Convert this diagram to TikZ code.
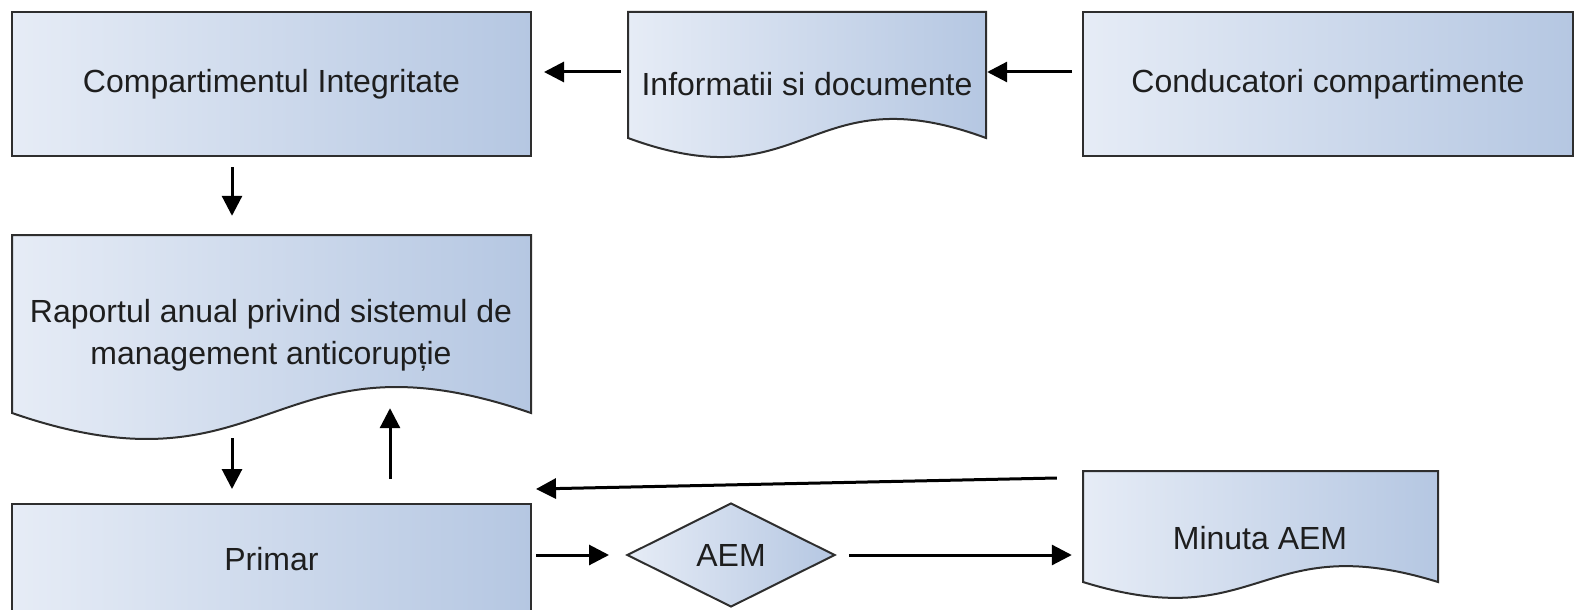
\documentclass[tikz,border=0pt]{standalone}
\usepackage{fontspec}
\setmainfont{Liberation Sans}
\usetikzlibrary{arrows.meta,calc,shapes.geometric}
\definecolor{fillL}{HTML}{E6ECF6}
\definecolor{fillR}{HTML}{B5C7E2}
\definecolor{edge}{HTML}{2E2E2E}
\definecolor{ink}{HTML}{1E1E1E}

% document symbol: straight top and sides, wavy bottom edge
% #1 name, #2 left, #3 top, #4 right, #5 bottom of the sides, #6 wave depth
\newcommand\docsymbol[6]{%
  \path[boxfill] (#2,#3) -- (#4,#3) -- (#4,#5)
    .. controls ({(#2+#4)/2},{#5-#6}) and ({(#2+#4)/2},{#5+#6}) .. (#2,#5) -- cycle;
  \pgfmathsetmacro\dw{#4-#2}\pgfmathsetmacro\dh{#5-#3}%
  \node[inner sep=0pt,minimum width=\dw pt,minimum height=\dh pt] (#1)
    at ({(#2+#4)/2},{(#3+#5)/2}) {};
}

\begin{document}
\begin{tikzpicture}[x=1pt,y=-1pt,
  boxfill/.style={left color=fillL,right color=fillR,draw=edge,line width=2pt},
  label/.style={font=\fontsize{32}{42}\selectfont,text=ink,align=center,inner sep=0pt},
  procbox/.style={boxfill,rectangle,label},
  decision/.style={boxfill,diamond,label,aspect=2},
  flow/.style={line width=3pt,-{Triangle[length=20pt,width=20pt]}},
]
\useasboundingbox (0,0) rectangle (1575,610);

% process boxes
\node[procbox,minimum width=519pt,minimum height=144pt] (comp) at (271.5,84) {Compartimentul Integritate};
\node[procbox,minimum width=490pt,minimum height=144pt] (cond) at (1328,84) {Conducatori compartimente};
\node[procbox,minimum width=519pt,minimum height=111pt] (primar) at (271.5,559.5) {Primar};
\node[decision,minimum width=208pt,minimum height=104pt] (aem) at (731,555) {AEM};

% documents
\docsymbol{info}{628}{12}{986}{138}{66}
\node[label] (info-t) at (807,84) {Informatii si documente};
\docsymbol{rap}{12}{235}{531}{413}{90}
\node[label] (rap-t) at (271,335) {Raportul anual privind sistemul de\\management anticorupție};
\docsymbol{minuta}{1083}{471}{1438}{582}{55}
\node[label] (minuta-t) at (1260,538) {Minuta AEM};

% connectors
\draw[flow] ($(info.west)+(-7,-3)$) -- ($(comp.east)+(12,-12)$);
\draw[flow] ($(cond.west)+(-10,-12)$) -- ($(info.east)+(1,-3)$);
\draw[flow] ($(comp.south)+(-39.5,10)$) -- ($(rap.north)+(-39.5,-19)$);
\draw[flow] ($(rap.south)+(-39.5,25)$) -- ($(primar.north)+(-39.5,-14)$);
\draw[flow] ($(primar.north)+(118.5,-24)$) -- ($(rap.south)+(118.5,-5)$);
\draw[flow] ($(minuta.west)+(-26,-48.5)$) -- ($(primar.north east)+(4,-14)$);
\draw[flow] ($(primar.east)+(4,-4.5)$) -- ($(aem.west)+(-17,0)$);
\draw[flow] ($(aem.east)+(13,0)$) -- ($(minuta.west)+(-11,28.5)$);
\end{tikzpicture}
\end{document}
